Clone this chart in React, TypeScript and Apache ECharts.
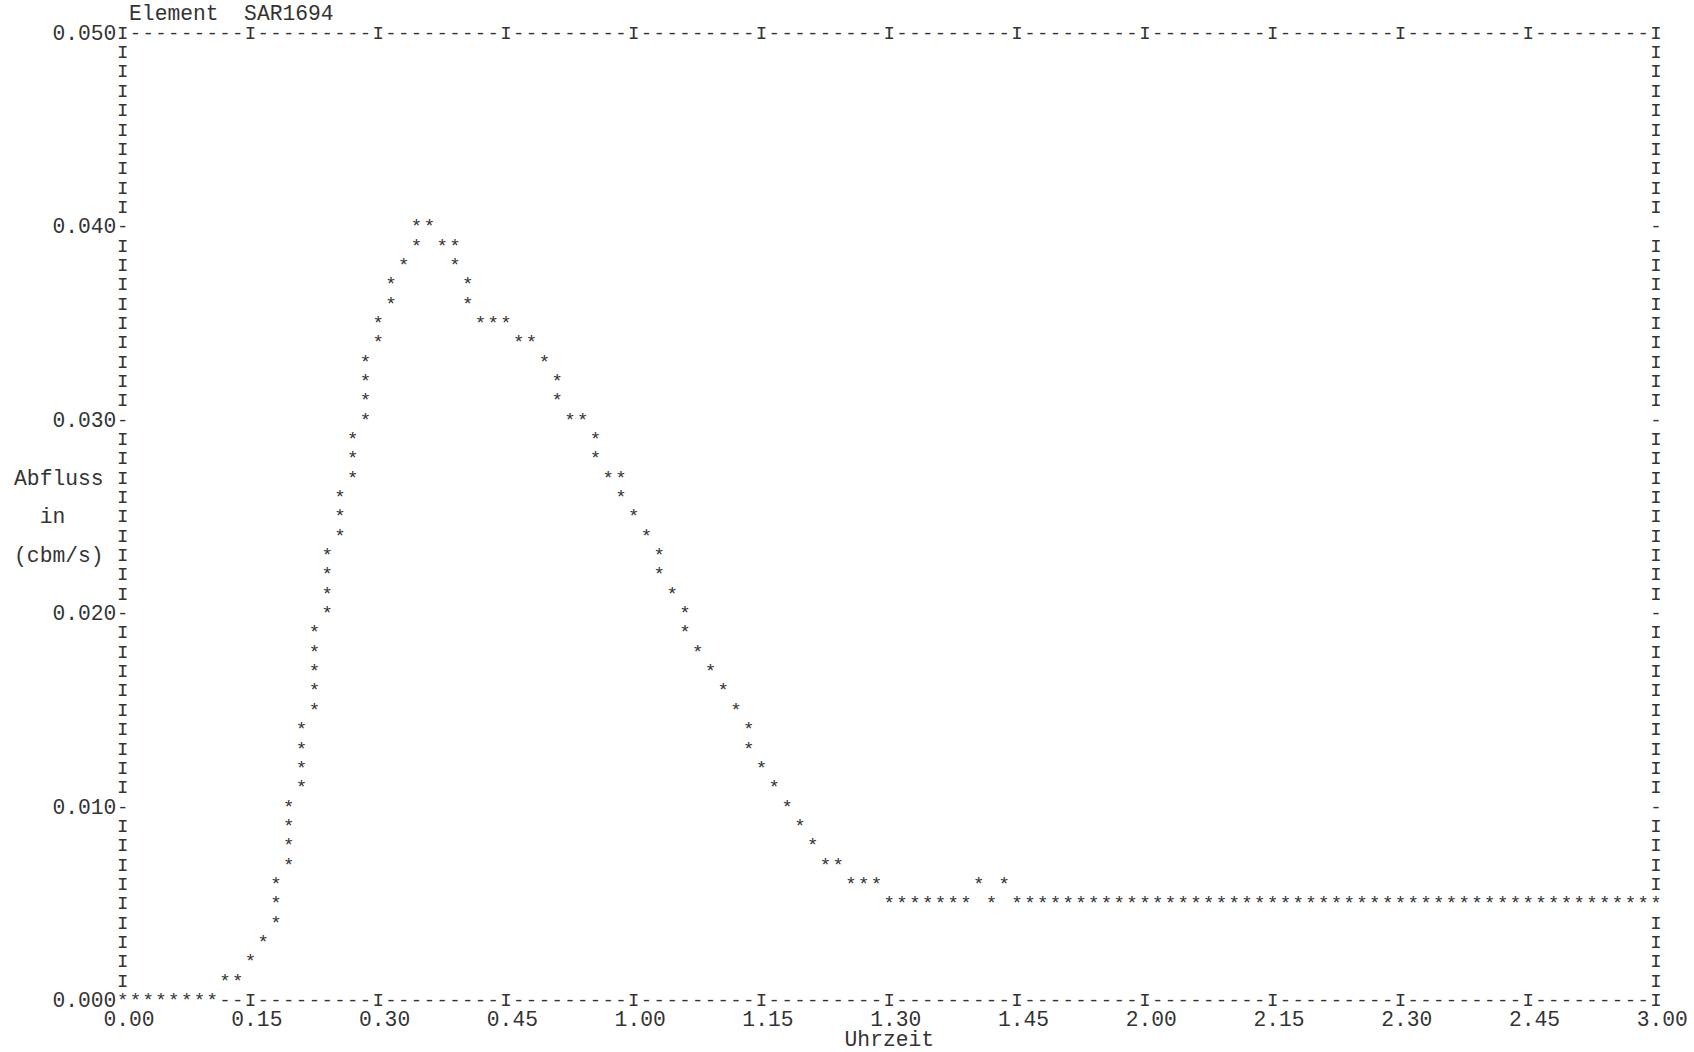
import React, { useEffect, useRef } from "react";
import * as echarts from "echarts";

// ---------- Daten ----------
const titel = "Element  SAR1694";
const yAchsenName = "Abfluss\nin\u00a0\n(cbm/s)";
const xAchsenName = "Uhrzeit";
const xTickLabels = [
  "0.00", "0.15", "0.30", "0.45", "1.00", "1.15", "1.30",
  "1.45", "2.00", "2.15", "2.30", "2.45", "3.00",
];
const yMin = 0;
const yMax = 0.05;
const yStep = 0.01;
const zeile = 0.001; // value per printer row
const zeitschrittMin = 1.5; // minutes per printer column
const xMaxMin = 180;
const xTickMin = 15;

// upper / lower star of each printer column (cbm/s)
const abflussOben = [
  0, 0, 0, 0, 0, 0, 0, 0,
  0.001, 0.001, 0.002, 0.003, 0.006, 0.010, 0.014, 0.019, 0.023, 0.026,
  0.029, 0.033, 0.035, 0.037, 0.038, 0.040, 0.040, 0.039, 0.039, 0.037,
  0.035, 0.035, 0.035, 0.034, 0.034, 0.033, 0.032, 0.030, 0.030, 0.029,
  0.027, 0.027, 0.025, 0.024, 0.023, 0.021, 0.020, 0.018, 0.017, 0.016,
  0.015, 0.014, 0.012, 0.011, 0.010, 0.009, 0.008, 0.007, 0.007, 0.006,
  0.006, 0.006, 0.005, 0.005, 0.005, 0.005, 0.005, 0.005, 0.005, 0.006,
  0.005, 0.006,
  0.005, 0.005, 0.005, 0.005, 0.005, 0.005, 0.005, 0.005, 0.005, 0.005,
  0.005, 0.005, 0.005, 0.005, 0.005, 0.005, 0.005, 0.005, 0.005, 0.005,
  0.005, 0.005, 0.005, 0.005, 0.005, 0.005, 0.005, 0.005, 0.005, 0.005,
  0.005, 0.005, 0.005, 0.005, 0.005, 0.005, 0.005, 0.005, 0.005, 0.005,
  0.005, 0.005, 0.005, 0.005, 0.005, 0.005, 0.005, 0.005, 0.005, 0.005,
  0.005,
];
const abflussUnten = [
  0, 0, 0, 0, 0, 0, 0, 0,
  0.001, 0.001, 0.002, 0.003, 0.004, 0.007, 0.011, 0.015, 0.020, 0.024,
  0.027, 0.030, 0.034, 0.036, 0.038, 0.039, 0.040, 0.039, 0.038, 0.036,
  0.035, 0.035, 0.035, 0.034, 0.034, 0.033, 0.031, 0.030, 0.030, 0.028,
  0.027, 0.026, 0.025, 0.024, 0.022, 0.021, 0.019, 0.018, 0.017, 0.016,
  0.015, 0.013, 0.012, 0.011, 0.010, 0.009, 0.008, 0.007, 0.007, 0.006,
  0.006, 0.006, 0.005, 0.005, 0.005, 0.005, 0.005, 0.005, 0.005, 0.006,
  0.005, 0.006,
  0.005, 0.005, 0.005, 0.005, 0.005, 0.005, 0.005, 0.005, 0.005, 0.005,
  0.005, 0.005, 0.005, 0.005, 0.005, 0.005, 0.005, 0.005, 0.005, 0.005,
  0.005, 0.005, 0.005, 0.005, 0.005, 0.005, 0.005, 0.005, 0.005, 0.005,
  0.005, 0.005, 0.005, 0.005, 0.005, 0.005, 0.005, 0.005, 0.005, 0.005,
  0.005, 0.005, 0.005, 0.005, 0.005, 0.005, 0.005, 0.005, 0.005, 0.005,
  0.005,
];

// ---------- Layout / Stil ----------
const W = 1694;
const H = 1052;
const GRID_LEFT = 122.7;
const GRID_RIGHT = 38.1;
const GRID_TOP = 33.8;
const GRID_BOTTOM = 51;
const FONT = "Liberation Mono";
const FONT_SIZE = 21.3;
const CHAR_SIZE = 19;
const INK = "#333";

export default function App() {
  const ref = useRef<HTMLDivElement>(null);

  useEffect(() => {
    if (!ref.current) return;
    const chart = echarts.init(ref.current, undefined, { renderer: "svg" });

    const nCols = Math.round(xMaxMin / zeitschrittMin);
    const nRows = Math.round((yMax - yMin) / zeile);
    const colsPerTick = Math.round(xTickMin / zeitschrittMin);
    const rowsPerTick = Math.round(yStep / zeile);
    const colPx = (W - GRID_LEFT - GRID_RIGHT) / nCols;
    const rowPx = (H - GRID_TOP - GRID_BOTTOM) / nRows;

    const belegt = new Set<string>();
    abflussOben.forEach((h, i) => {
      const k0 = Math.round(abflussUnten[i] / zeile);
      const k1 = Math.round(h / zeile);
      for (let k = k0; k <= k1; k++) belegt.add(i + "," + k);
    });

    const rahmen: { c: number; r: number; ch: string }[] = [];
    for (let r = 0; r <= nRows; r++) {
      for (const c of [0, nCols]) {
        const ch = r % rowsPerTick === 0 && r !== 0 && r !== nRows ? "-" : "I";
        if (!belegt.has(c + "," + r)) rahmen.push({ c, r, ch });
      }
    }
    for (const r of [0, nRows]) {
      for (let c = 1; c < nCols; c++) {
        const ch = c % colsPerTick === 0 ? "I" : "-";
        if (!belegt.has(c + "," + r)) rahmen.push({ c, r, ch });
      }
    }

    const charStyle = (t: string) => ({
      text: t,
      fill: INK,
      fontFamily: FONT,
      fontSize: CHAR_SIZE,
      align: "center",
      verticalAlign: "middle",
    });

    const textStyle = { fontFamily: FONT, fontSize: FONT_SIZE, color: INK };

    chart.setOption({
      animation: false,
      backgroundColor: "#ffffff",
      title: {
        text: titel,
        left: GRID_LEFT + colPx * 0.5,
        top: GRID_TOP - rowPx - FONT_SIZE / 2,
        padding: 0,
        textStyle: { ...textStyle, fontWeight: "normal", lineHeight: FONT_SIZE },
      },
      grid: {
        left: GRID_LEFT,
        right: GRID_RIGHT,
        top: GRID_TOP,
        bottom: GRID_BOTTOM,
        containLabel: false,
        outerBoundsMode: "none",
      },
      xAxis: {
        type: "value",
        min: 0,
        max: xMaxMin,
        interval: xTickMin,
        name: xAchsenName,
        nameLocation: "middle",
        nameGap: rowPx * 2,
        nameMoveOverlap: false,
        nameTextStyle: { ...textStyle, align: "center", verticalAlign: "middle" },
        axisLine: { show: false },
        axisTick: { show: false },
        splitLine: { show: false },
        axisLabel: {
          ...textStyle,
          formatter: (v: number) => xTickLabels[Math.round(v / xTickMin)],
          margin: rowPx,
          align: "center",
          verticalAlign: "middle",
          padding: [0, 0, 0, colPx],
          showMinLabel: true,
          showMaxLabel: true,
        },
      },
      yAxis: {
        type: "value",
        min: yMin,
        max: yMax,
        interval: yStep,
        name: yAchsenName,
        nameLocation: "middle",
        nameRotate: 0,
        nameGap: colPx * 5,
        nameMoveOverlap: false,
        nameTextStyle: {
          ...textStyle,
          align: "center",
          verticalAlign: "middle",
          lineHeight: rowPx * 2,
        },
        axisLine: { show: false },
        axisTick: { show: false },
        splitLine: { show: false },
        axisLabel: {
          ...textStyle,
          formatter: (v: number) => v.toFixed(3),
          margin: colPx / 2,
          align: "right",
          verticalAlign: "middle",
          showMinLabel: true,
          showMaxLabel: true,
        },
      },
      series: [
        {
          type: "custom",
          name: "Rahmen",
          silent: true,
          data: rahmen.map((z) => [z.c * zeitschrittMin, z.r * zeile]),
          encode: { x: 0, y: 1 },
          renderItem: (params: any, api: any) => {
            const p = api.coord([api.value(0), api.value(1)]);
            return {
              type: "text",
              x: p[0],
              y: p[1],
              style: charStyle(rahmen[params.dataIndex].ch),
            };
          },
        },
        {
          type: "custom",
          name: "Abfluss",
          silent: true,
          data: abflussOben.map((h, i) => [i * zeitschrittMin, abflussUnten[i], h]),
          encode: { x: 0, y: [1, 2] },
          renderItem: (params: any, api: any) => {
            const t = api.value(0);
            const k0 = Math.round(api.value(1) / zeile);
            const k1 = Math.round(api.value(2) / zeile);
            const children: any[] = [];
            for (let k = k0; k <= k1; k++) {
              const p = api.coord([t, k * zeile]);
              children.push({
                type: "text",
                x: p[0],
                y: p[1],
                style: charStyle("*"),
              });
            }
            return { type: "group", children };
          },
        },
      ],
    });

    return () => chart.dispose();
  }, []);

  return (
    <div
      ref={ref}
      style={{ position: "fixed", left: 0, top: 0, width: W, height: H, background: "#fff" }}
    />
  );
}
